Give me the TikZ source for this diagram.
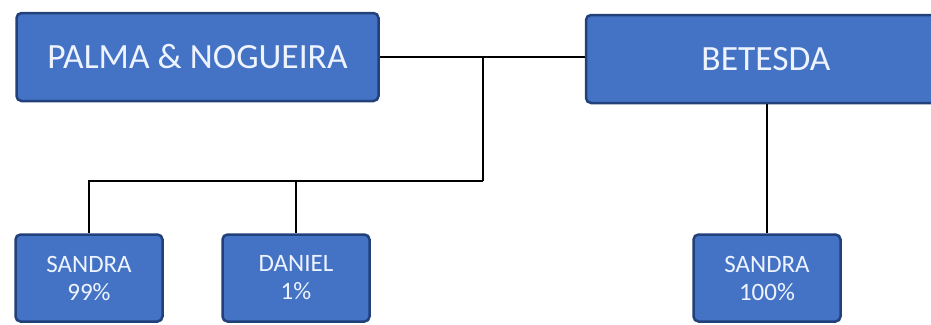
\documentclass[tikz,border=0pt]{standalone}
\usepackage{fontspec}
\setmainfont{Carlito}
\usetikzlibrary{positioning}
\definecolor{boxfill}{HTML}{4472C4}
\definecolor{boxline}{HTML}{22407A}
\definecolor{boxtext}{HTML}{EEF4FF}
\tikzset{
	box/.style={draw=boxline,fill=boxfill,line width=2.5pt,rounded corners=5pt,text=boxtext,align=center,inner sep=0pt},
	firm/.style={box,minimum height=88pt,font=\fontsize{35.5}{40}\selectfont},
	owner/.style={box,minimum width=147pt,minimum height=87pt,font=\fontsize{25}{28}\selectfont},
	link/.style={line width=1.8pt}
}
\begin{document}
\begin{tikzpicture}[x=1pt,y=-1pt]
            \clip (0,0) rectangle (931,324);
            \node[firm,minimum width=362pt] (palma) at (197.5,57) {PALMA \& NOGUEIRA};
            \node[firm,minimum width=360pt] (betesda) at (766,59) {BETESDA};
            \node[owner] (sandraA) at (89,278) {SANDRA\\99\%};
            \node[owner] (daniel) at (296,278) {DANIEL\\1\%};
            \node[owner] (sandraB) at (767,278) {SANDRA\\100\%};
            \coordinate (j) at (483,57);
            \coordinate (k) at (483,181);
            \draw[link] (palma.east) -- (j) -- (betesda.west |- j);
            \draw[link] (j) -- (k);
            \draw[link] (k) -| (sandraA.north);
            \draw[link] (daniel.north |- k) -- (daniel.north);
            \draw[link] (sandraB.north |- betesda.south) -- (sandraB.north);
        \end{tikzpicture}
\end{document}
